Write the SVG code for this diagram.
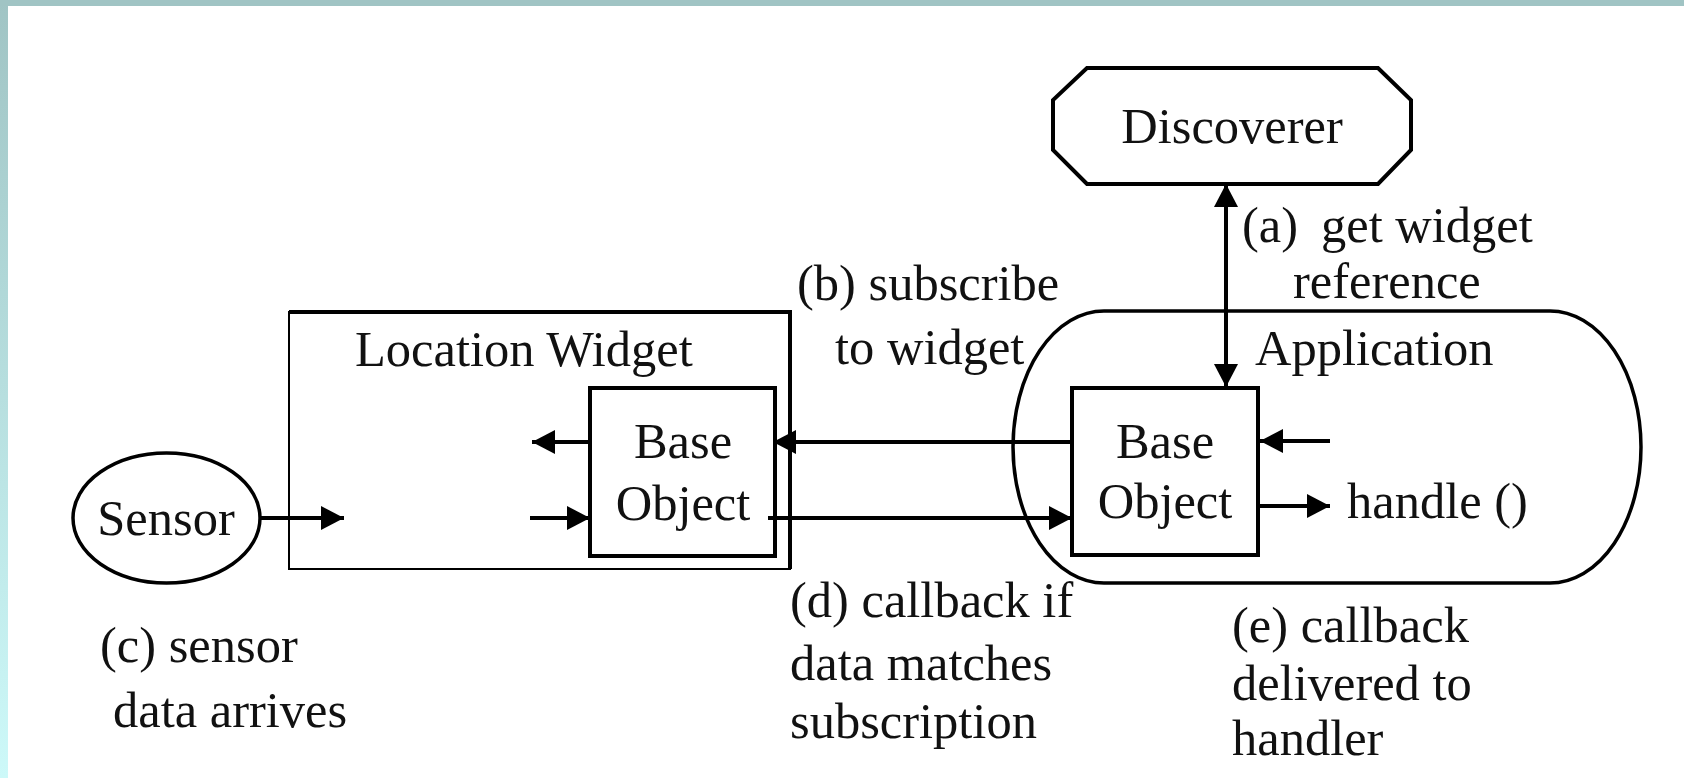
<svg xmlns="http://www.w3.org/2000/svg" width="1684" height="778" viewBox="0 0 1684 778">
<defs>
<linearGradient id="side" x1="0" y1="0" x2="0" y2="1">
<stop offset="0" stop-color="#a0c4c4"/>
<stop offset="1" stop-color="#cdf9f9"/>
</linearGradient>
<marker id="ah" markerUnits="userSpaceOnUse" markerWidth="26" markerHeight="26" refX="23" refY="12" orient="auto-start-reverse">
<path d="M0,0 L23,12 L0,24 Z" fill="#000"/>
</marker>
<style>
text{font-family:"Liberation Serif","Times New Roman",serif;font-size:50.5px;fill:#111}
.mid{text-anchor:middle}
.box{fill:#fff;stroke:#000;stroke-width:4}
.thin{fill:none;stroke:#000;stroke-width:2}
.shape{fill:none;stroke:#000;stroke-width:3.5}
.conn line{stroke:#000;stroke-width:4;marker-end:url(#ah)}
</style>
</defs>
<rect x="0" y="0" width="1684" height="778" fill="#fff"/>
<rect x="0" y="0" width="8" height="778" fill="url(#side)"/>
<rect x="0" y="0" width="1684" height="6" fill="#a0c4c4"/>

<g id="discoverer">
<polygon class="box" points="1087,68 1378,68 1411,100 1411,150 1378,184 1087,184 1053,150 1053,100"/>
<text class="mid" x="1232" y="143">Discoverer</text>
</g>

<g id="application">
<rect class="shape" x="1013" y="311" width="628" height="272" rx="91" ry="136"/>
<text x="1255" y="365">Application</text>
</g>

<g id="location-widget">
<rect class="thin" x="289" y="312" width="501" height="257"/>
<polyline fill="none" stroke="#000" stroke-width="4" points="289,312 790,312 790,569"/>
<text x="355" y="366">Location Widget</text>
</g>

<g id="lw-base-object">
<rect class="box" x="590" y="388" width="185" height="168"/>
<text class="mid" x="683" y="458">Base</text>
<text class="mid" x="683" y="520">Object</text>
</g>

<g id="app-base-object">
<rect class="box" x="1072" y="388" width="186" height="167"/>
<text class="mid" x="1165" y="458">Base</text>
<text class="mid" x="1165" y="518">Object</text>
</g>

<g id="sensor">
<ellipse class="shape" cx="166.5" cy="518" rx="93.5" ry="65"/>
<text class="mid" x="166" y="535">Sensor</text>
</g>

<g id="connectors" class="conn">
<line x1="260" y1="518" x2="344" y2="518"/>
<line x1="590" y1="442" x2="532" y2="442"/>
<line x1="530" y1="518" x2="590" y2="518"/>
<line x1="1072" y1="442" x2="773" y2="442"/>
<line x1="768" y1="518" x2="1072" y2="518"/>
<line x1="1226" y1="184" x2="1226" y2="387" style="marker-start:url(#ah)"/>
<line x1="1330" y1="441" x2="1260" y2="441"/>
<line x1="1258" y1="506" x2="1330" y2="506"/>
</g>

<g id="labels">
<text x="1242" y="242">(a)</text>
<text x="1321" y="242">get widget</text>
<text x="1293" y="298">reference</text>
<text x="797" y="300">(b) subscribe</text>
<text x="835" y="364">to widget</text>
<text x="1347" y="518">handle ()</text>
<text x="100" y="662">(c) sensor</text>
<text x="113" y="727">data arrives</text>
<text x="790" y="617">(d) callback if</text>
<text x="790" y="680">data matches</text>
<text x="790" y="738">subscription</text>
<text x="1232" y="642">(e) callback</text>
<text x="1232" y="700">delivered to</text>
<text x="1232" y="755">handler</text>
</g>
</svg>
